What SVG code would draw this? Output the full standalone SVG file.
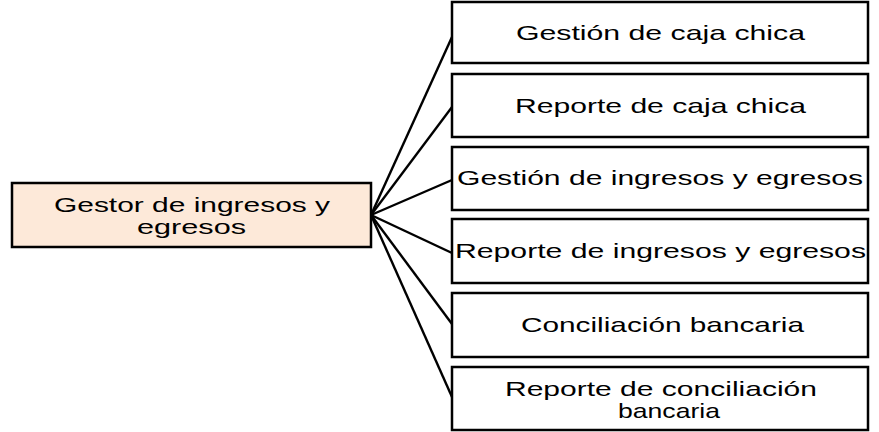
<svg xmlns="http://www.w3.org/2000/svg" width="879" height="432" viewBox="0 0 879 432">
<style>
.box{fill:#ffffff;stroke:#000000;stroke-width:2.5}
.root{fill:#FDE9D9;stroke:#000000;stroke-width:2.5}
.lbl{font-family:"Liberation Sans",Arial,sans-serif;font-size:21px;fill:#000000;text-anchor:middle}
.conn{stroke:#000000;stroke-width:2.4;fill:none}
</style>
<rect width="879" height="432" fill="#ffffff"/>
<g id="connectors">
<line class="conn" x1="371" y1="215" x2="452" y2="37"/>
<line class="conn" x1="371" y1="215" x2="452" y2="107"/>
<line class="conn" x1="371" y1="215" x2="452" y2="180"/>
<line class="conn" x1="371" y1="215" x2="452" y2="253"/>
<line class="conn" x1="371" y1="215" x2="452" y2="324"/>
<line class="conn" x1="371" y1="215" x2="452" y2="397"/>
</g>
<g id="root">
<rect class="root" x="12" y="183" width="359" height="64"/>
<text class="lbl" x="192" y="212" textLength="276" lengthAdjust="spacingAndGlyphs">Gestor de ingresos y</text>
<text class="lbl" x="191.5" y="233.5" textLength="109" lengthAdjust="spacingAndGlyphs">egresos</text>
</g>
<g id="n1">
<rect class="box" x="452" y="2" width="416" height="61"/>
<text class="lbl" x="660.5" y="40" textLength="289" lengthAdjust="spacingAndGlyphs">Gestión de caja chica</text>
</g>
<g id="n2">
<rect class="box" x="452" y="74" width="416" height="63"/>
<text class="lbl" x="660.5" y="113" textLength="291" lengthAdjust="spacingAndGlyphs">Reporte de caja chica</text>
</g>
<g id="n3">
<rect class="box" x="452" y="147" width="416" height="63"/>
<text class="lbl" x="660" y="185" textLength="406" lengthAdjust="spacingAndGlyphs">Gestión de ingresos y egresos</text>
</g>
<g id="n4">
<rect class="box" x="452" y="219" width="416" height="64"/>
<text class="lbl" x="660.5" y="257.5" textLength="411" lengthAdjust="spacingAndGlyphs">Reporte de ingresos y egresos</text>
</g>
<g id="n5">
<rect class="box" x="452" y="293" width="416" height="64"/>
<text class="lbl" x="662.5" y="332" textLength="283" lengthAdjust="spacingAndGlyphs">Conciliación bancaria</text>
</g>
<g id="n6">
<rect class="box" x="452" y="367" width="416" height="63"/>
<text class="lbl" x="661" y="395.5" textLength="312" lengthAdjust="spacingAndGlyphs">Reporte de conciliación</text>
<text class="lbl" x="669" y="417.5" textLength="102" lengthAdjust="spacingAndGlyphs">bancaria</text>
</g>
</svg>
